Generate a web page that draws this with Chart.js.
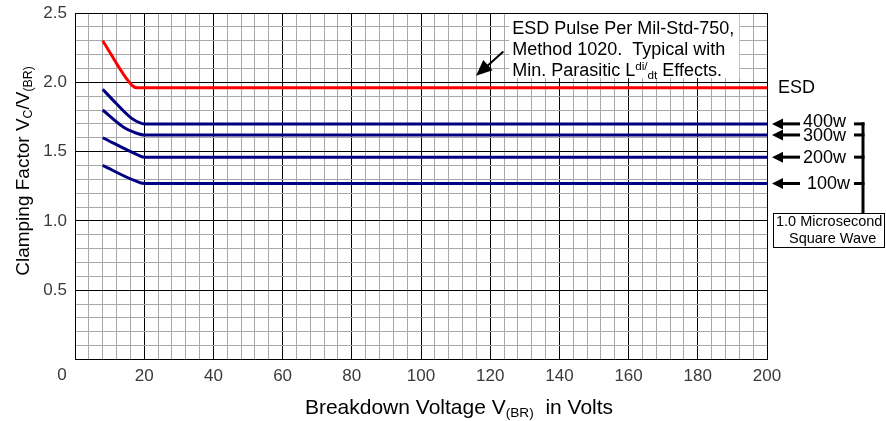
<!DOCTYPE html>
<html>
<head>
<meta charset="utf-8">
<script src="https://cdn.jsdelivr.net/npm/chart.js@4"></script>
<style>
  body { margin: 0; background: #fff; }
  #wrap { width: 886px; height: 421px; }
</style>
</head>
<body>
<div id="wrap"><canvas id="clampChart"></canvas></div>
<script>
// values (breakdown voltage in V, clamping factor Vc/Vbr)
const esdVolts = [8, 16.4, 18, 200];
const esdFactor = [2.30, 1.98, 1.96, 1.96];
const w400Volts = [8, 12, 16.4, 19, 20, 200];
const w400Factor = [1.95, 1.845, 1.74, 1.705, 1.70, 1.70];
const w300Volts = [8, 14.4, 17, 20, 200];
const w300Factor = [1.80, 1.67, 1.64, 1.62, 1.62];
const w200Volts = [8, 17.8, 20, 200];
const w200Factor = [1.60, 1.48, 1.46, 1.46];
const w100Volts = [8, 17.3, 20, 200];
const w100Factor = [1.40, 1.29, 1.27, 1.27];
const seriesNames = ['ESD', '400w', '300w', '200w', '100w'];

const FONT = "'Liberation Sans', Arial, sans-serif";

function pts(xs, ys) {
  return xs.map((x, i) => ({ x: x, y: ys[i] }));
}

function makeSet(name, xs, ys, color) {
  return {
    label: name,
    data: pts(xs, ys),
    borderColor: color,
    borderWidth: 3,
    pointRadius: 0,
    fill: false,
    cubicInterpolationMode: 'monotone'
  };
}

// draws a line of text with sub/superscript parts
function richText(ctx, parts, x, y, size, align) {
  let total = 0;
  parts.forEach(p => {
    ctx.font = (p.sub || p.sup ? size * 0.65 : size) + 'px ' + FONT;
    p.w = ctx.measureText(p.t).width;
    total += p.w;
  });
  let cx = align === 'center' ? x - total / 2 : x;
  parts.forEach(p => {
    ctx.font = (p.sub || p.sup ? size * 0.65 : size) + 'px ' + FONT;
    let dy = p.sub ? size * 0.25 : (p.sup ? -size * 0.25 : 0);
    ctx.fillText(p.t, cx, y + dy);
    cx += p.w;
  });
}

function arrowHead(ctx, tipX, tipY, fromX, fromY, len, half) {
  const a = Math.atan2(tipY - fromY, tipX - fromX);
  ctx.beginPath();
  ctx.moveTo(tipX, tipY);
  ctx.lineTo(tipX - len * Math.cos(a) + half * Math.sin(a), tipY - len * Math.sin(a) - half * Math.cos(a));
  ctx.lineTo(tipX - len * Math.cos(a) - half * Math.sin(a), tipY - len * Math.sin(a) + half * Math.cos(a));
  ctx.closePath();
  ctx.fill();
}

const notes = {
  id: 'notes',
  afterDatasetsDraw(chart) {
    const ctx = chart.ctx;
    const xs = chart.scales.x, ys = chart.scales.y;
    const area = chart.chartArea;
    ctx.save();
    ctx.fillStyle = '#000';
    ctx.strokeStyle = '#000';
    ctx.textBaseline = 'middle';
    ctx.textAlign = 'left';

    // ESD note box over the grid
    const bx = xs.getPixelForValue(125.5), bx2 = xs.getPixelForValue(192);
    const by = area.top + 1, by2 = ys.getPixelForValue(2.03);
    ctx.fillStyle = '#fff';
    ctx.fillRect(bx, by, bx2 - bx, by2 - by);
    ctx.fillStyle = '#000';
    richText(ctx, [{ t: 'ESD Pulse Per Mil-Std-750,' }], bx + 3, by + 15, 18);
    richText(ctx, [{ t: 'Method 1020.  Typical with' }], bx + 3, by + 36, 18);
    richText(ctx, [{ t: 'Min. Parasitic L' }, { t: 'di', sup: true }, { t: '/', sup: true },
      { t: 'dt', sub: true }, { t: ' Effects.' }], bx + 3, by + 57, 18);

    // arrow to ESD curve
    const ax1 = xs.getPixelForValue(123.8), ay1 = ys.getPixelForValue(2.223);
    const ax2 = xs.getPixelForValue(115.9), ay2 = ys.getPixelForValue(2.047);
    ctx.lineWidth = 2;
    ctx.beginPath();
    ctx.moveTo(ax1, ay1);
    ctx.lineTo(ax2 + 6, ay2 - 5);
    ctx.stroke();
    arrowHead(ctx, ax2, ay2, ax1, ay1, 16, 7);

    // ESD label at right
    ctx.font = '18px ' + FONT;
    ctx.fillText(seriesNames[0], area.right + 11, ys.getPixelForValue(esdFactor[esdFactor.length - 1]));

    // power labels with arrows and bracket
    const levels = [w400Factor, w300Factor, w200Factor, w100Factor].map(a => a[a.length - 1]);
    const brX = area.right + 96;
    ctx.lineWidth = 3;
    levels.forEach((v, i) => {
      const py = ys.getPixelForValue(v);
      const tipX = area.right + 5;
      ctx.beginPath();
      ctx.moveTo(tipX + 8, py);
      ctx.lineTo(area.right + 33, py);
      ctx.stroke();
      arrowHead(ctx, tipX, py, tipX + 20, py, 11, 5.5);
      ctx.font = '18px ' + FONT;
      ctx.fillText(seriesNames[i + 1], area.right + (i === 3 ? 40 : 36), py + (i === 0 ? -2 : 1));
      ctx.beginPath();
      ctx.moveTo(area.right + 87, py);
      ctx.lineTo(brX + 1.5, py);
      ctx.stroke();
    });
    const boxTop = 213, boxLeft = area.right + 6;
    ctx.beginPath();
    ctx.moveTo(brX, ys.getPixelForValue(levels[0]) - 1.5);
    ctx.lineTo(brX, boxTop);
    ctx.stroke();

    // pulse box
    ctx.lineWidth = 1;
    ctx.fillStyle = '#fff';
    ctx.fillRect(boxLeft, boxTop, 885 - boxLeft, 34);
    ctx.strokeRect(boxLeft + 0.5, boxTop + 0.5, 885 - boxLeft - 1, 34);
    ctx.fillStyle = '#000';
    ctx.textAlign = 'left';
    ctx.font = '14.5px ' + FONT;
    ctx.fillText('1.0 Microsecond', boxLeft + 3, boxTop + 9);
    ctx.fillText('Square Wave', boxLeft + 16, boxTop + 26);

    // x zero label sits left of the axis corner
    ctx.fillStyle = '#3a3a3a';
    ctx.font = '17px ' + FONT;
    ctx.textAlign = 'center';
    ctx.fillText('0', xs.getPixelForValue(0) - 13, area.bottom + 16);

    // axis titles
    ctx.fillStyle = '#000';
    ctx.textAlign = 'left';
    richText(ctx, [{ t: 'Breakdown Voltage V' }, { t: '(BR)', sub: true }, { t: '  in Volts' }],
      459, 408, 21, 'center');
    ctx.translate(24, 171);
    ctx.rotate(-Math.PI / 2);
    richText(ctx, [{ t: 'Clamping Factor V' }, { t: 'C', sub: true }, { t: '/V' }, { t: '(BR)', sub: true }],
      0, 0, 19, 'center');
    ctx.restore();
  }
};

function isMajor(v, step) {
  return Math.abs(v / step - Math.round(v / step)) < 1e-6;
}

window.onload = function () {
  new Chart(document.getElementById('clampChart'), {
    type: 'line',
    data: {
      datasets: [
        makeSet(seriesNames[0], esdVolts, esdFactor, '#ff0000'),
        makeSet(seriesNames[1], w400Volts, w400Factor, '#000080'),
        makeSet(seriesNames[2], w300Volts, w300Factor, '#000080'),
        makeSet(seriesNames[3], w200Volts, w200Factor, '#000080'),
        makeSet(seriesNames[4], w100Volts, w100Factor, '#000080')
      ]
    },
    options: {
      responsive: true,
      maintainAspectRatio: false,
      animation: false,
      layout: { padding: { top: 13, right: 119, left: 0, bottom: 0 } },
      plugins: { legend: { display: false }, tooltip: { enabled: false } },
      scales: {
        x: {
          type: 'linear',
          min: 0, max: 200,
          afterFit: s => { s.height = 61.5; s.paddingLeft = 0; s.paddingRight = 0; },
          border: { color: '#000', width: 1 },
          grid: {
            drawTicks: false,
            color: c => isMajor(c.tick.value, 20) ? '#000' : '#a8a8a8'
          },
          ticks: {
            stepSize: 4,
            autoSkip: false,
            maxRotation: 0,
            padding: 7,
            color: '#3a3a3a',
            font: { family: FONT, size: 17 },
            callback: v => (isMajor(v, 20) && v !== 0) ? String(v) : ''
          }
        },
        y: {
          min: 0, max: 2.5,
          afterFit: s => { s.width = 75; s.paddingTop = 0; s.paddingBottom = 0; },
          border: { color: '#000', width: 1 },
          grid: {
            drawTicks: false,
            color: c => isMajor(c.tick.value, 0.5) ? '#000' : '#a8a8a8'
          },
          ticks: {
            stepSize: 0.1,
            autoSkip: false,
            padding: 8,
            color: '#3a3a3a',
            font: { family: FONT, size: 17 },
            callback: v => (isMajor(v, 0.5) && v > 0.01) ? v.toFixed(1) : ''
          }
        }
      }
    },
    plugins: [notes]
  });
};
</script>
</body>
</html>
